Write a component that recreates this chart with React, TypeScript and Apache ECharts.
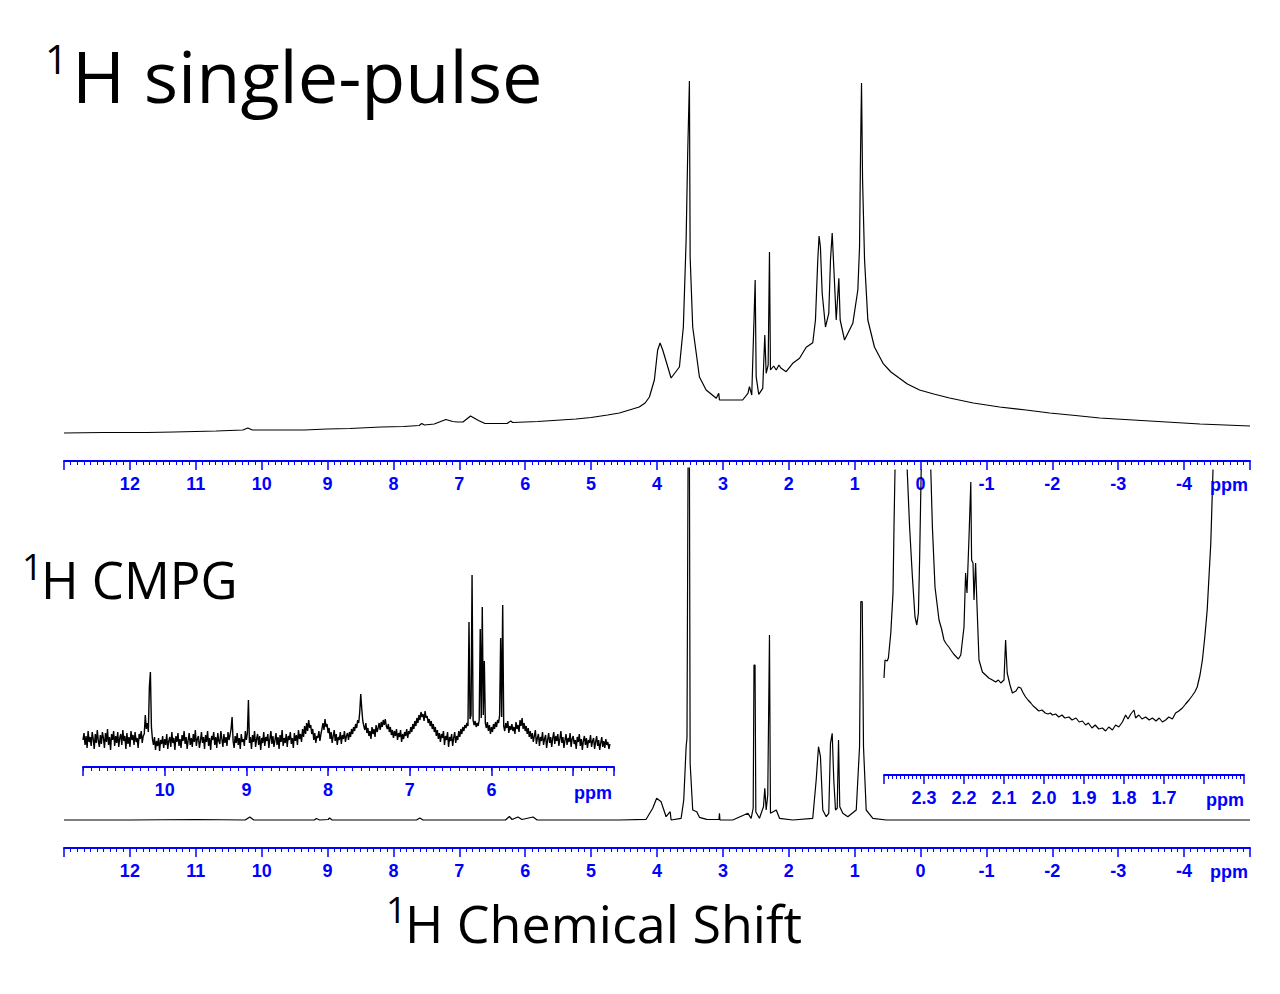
import React, { useEffect, useRef } from 'react';
import * as echarts from 'echarts';

// ---------- DATA (ppm, intensity) ----------
const singlePulse: [number, number][] = [
  [13.0, 28], [12.4, 28.5], [11.74, 28.5], [11.33, 29], [10.69, 30], [10.285, 31], [10.21, 33], [10.14, 31],
  [9.35, 31], [9.01, 32], [8.66, 32.5], [8.19, 34], [7.845, 34.5], [7.61, 35.5], [7.57, 37.5], [7.53, 36],
  [7.38, 37], [7.205, 41.5], [7.1, 39.5], [7.03, 39], [6.945, 39], [6.83, 45], [6.71, 40.5], [6.61, 37.5],
  [6.275, 37.5], [6.22, 40], [6.19, 38.5], [5.81, 39.5], [5.23, 42], [5.0, 43.5], [4.75, 46], [4.57, 48],
  [4.42, 51], [4.27, 54], [4.18, 58], [4.115, 64], [4.04, 81], [3.99, 111], [3.953, 118], [3.913, 111],
  [3.786, 83], [3.66, 94], [3.6, 134], [3.558, 221], [3.534, 308], [3.508, 380], [3.497, 204], [3.458, 134],
  [3.356, 84], [3.254, 71], [3.1, 62.7], [3.063, 67.7], [3.052, 61], [2.95, 61], [2.7, 61], [2.62, 67.7],
  [2.597, 74.3], [2.562, 66], [2.525, 147.7], [2.51, 181], [2.495, 84.3], [2.456, 66.7], [2.395, 72.7], [2.364, 126],
  [2.343, 87.7], [2.313, 96], [2.293, 209], [2.278, 91], [2.23, 95], [2.19, 91], [2.15, 96], [2.115, 92.7],
  [2.04, 89.3], [1.94, 97.7], [1.837, 102.7], [1.736, 113.7], [1.636, 118.3], [1.595, 141], [1.56, 201], [1.54, 225],
  [1.52, 214], [1.493, 167.7], [1.443, 134], [1.393, 147.7], [1.367, 201], [1.341, 228], [1.317, 194], [1.28, 141],
  [1.24, 182.7], [1.22, 141], [1.154, 121], [1.028, 137.7], [0.952, 171], [0.926, 214], [0.911, 307.7], [0.896, 378],
  [0.88, 281], [0.85, 201], [0.8, 141], [0.7, 114], [0.57, 97.7], [0.45, 89], [0.32, 82.7], [0.2, 77],
  [0.015, 71], [-0.2, 67], [-0.44, 63], [-0.8, 58], [-1.2, 54], [-1.6, 51], [-1.96, 48], [-2.35, 45.5],
  [-2.72, 43], [-3.1, 41.5], [-3.48, 40], [-3.86, 38.5], [-4.24, 37], [-4.62, 36], [-5.0, 35],
];

const cmpgMain: [number, number][] = [
  [13.0, 28], [12.0, 28], [11.0, 28.5], [10.25, 28], [10.18, 31], [10.12, 28], [9.2, 28], [9.17, 29.5],
  [9.12, 28], [8.99, 28.5], [8.97, 30], [8.93, 28], [7.65, 28], [7.6, 30], [7.55, 28], [6.3, 28],
  [6.24, 31.5], [6.2, 28.5], [6.11, 31], [6.05, 28.5], [5.88, 31], [5.82, 28], [4.57, 28], [4.165, 28.7],
  [4.065, 39.7], [4.005, 49.7], [3.938, 46.3], [3.862, 31.3], [3.8, 36.3], [3.786, 28], [3.634, 29.7], [3.594, 48],
  [3.558, 101.3], [3.545, 110], [3.525, 450], [3.51, 450], [3.497, 84.7], [3.458, 38], [3.397, 36.3], [3.356, 30.7],
  [3.245, 28.7], [3.06, 28.5], [3.052, 34.7], [3.045, 28], [2.85, 28], [2.62, 34.7], [2.571, 29.7], [2.54, 40],
  [2.528, 183], [2.512, 183], [2.5, 36], [2.445, 29.7], [2.384, 41.3], [2.364, 59.7], [2.343, 38], [2.319, 53],
  [2.293, 213], [2.278, 34.7], [2.19, 38], [2.141, 29.7], [1.94, 28], [1.636, 29.7], [1.584, 68], [1.549, 101.3],
  [1.519, 91.3], [1.484, 38], [1.432, 31.3], [1.393, 34.7], [1.367, 104.7], [1.341, 114.7], [1.317, 68], [1.291, 38],
  [1.265, 39.7], [1.245, 108], [1.226, 41.3], [1.18, 34.7], [1.104, 31.3], [0.976, 38], [0.926, 101.3], [0.907, 246.3],
  [0.885, 246.3], [0.866, 101.3], [0.825, 38], [0.724, 29.7], [0.52, 28], [0.3, 28], [0.0, 28], [-5.0, 28],
];

// aromatic expansion of the CMPG spectrum, sampled from 11.0 ppm downward every 0.0125 ppm
const cmpgAromaticStart = 11.0;
const cmpgAromaticStep = 0.0125;
const cmpgAromaticValues = [
  27, 34, 22, 31, 19, 36, 25, 30, 21, 35, 28, 18, 33, 24, 37, 26, 20, 32, 23, 35,
  29, 19, 34, 25, 38, 22, 30, 17, 33, 27, 36, 21, 31, 24, 35, 20, 29, 33, 22, 37,
  26, 31, 18, 34, 23, 30, 20, 36, 27, 32, 22, 35, 25, 29, 19, 33, 28, 36, 24, 31,
  33, 52, 38, 44, 35, 80, 95, 40, 28, 22, 30, 17, 26, 21, 29, 16, 27, 23, 31, 19,
  28, 22, 33, 18, 26, 30, 20, 35, 24, 29, 17, 31, 25, 34, 21, 28, 19, 32, 26, 36,
  23, 30, 18, 27, 34, 22, 29, 20, 33, 25, 37, 21, 28, 31, 19, 26, 35, 24, 30, 18,
  32, 25, 36, 21, 29, 17, 31, 27, 35, 22, 30, 19, 34, 26, 23, 36, 28, 20, 33, 24,
  30, 21, 35, 27, 32, 38, 50, 26, 19, 31, 24, 34, 22, 29, 18, 33, 25, 28, 21, 36,
  27, 34, 67, 24, 30, 18, 32, 25, 36, 20, 28, 33, 22, 31, 17, 29, 24, 35, 21, 30,
  26, 33, 19, 28, 36, 23, 31, 20, 27, 34, 22, 30, 18, 32, 25, 37, 21, 29, 24, 33,
  20, 31, 27, 35, 23, 29, 19, 34, 26, 32, 22, 37, 28, 33, 25, 38, 30, 41, 33, 44,
  36, 47, 39, 42, 33, 38, 27, 34, 24, 31, 29, 36, 26, 33, 38, 44, 37, 48, 40, 43,
  34, 39, 28, 35, 24, 31, 37, 26, 33, 22, 30, 27, 35, 23, 32, 28, 36, 25, 31, 34,
  27, 35, 30, 38, 33, 40, 36, 43, 39, 47, 44, 55, 73, 58, 46, 41, 37, 44, 34, 39,
  31, 36, 28, 40, 33, 38, 30, 42, 35, 39, 44, 37, 45, 40, 47, 42, 48, 41, 38, 43,
  35, 40, 32, 37, 29, 36, 31, 38, 27, 34, 30, 37, 25, 33, 28, 35, 31, 38, 29, 36,
  33, 40, 35, 43, 38, 46, 41, 49, 44, 52, 47, 55, 50, 53, 46, 56, 49, 51, 44, 48,
  41, 46, 38, 43, 35, 40, 31, 37, 28, 34, 25, 33, 29, 36, 22, 31, 27, 35, 20, 30,
  26, 33, 21, 29, 35, 24, 31, 27, 36, 30, 38, 33, 40, 36, 42, 39, 44, 41, 145, 48,
  52, 192, 47, 42, 46, 40, 44, 41, 47, 138, 49, 160, 52, 106, 44, 39, 45, 36, 42, 33,
  40, 35, 43, 38, 45, 40, 47, 44, 52, 129, 50, 162, 41, 36, 44, 39, 46, 34, 41, 37,
  43, 36, 40, 33, 45, 38, 42, 35, 47, 41, 49, 38, 44, 36, 41, 33, 39, 30, 36, 28,
  34, 25, 31, 37, 23, 29, 33, 21, 30, 26, 35, 22, 28, 32, 19, 27, 34, 24, 30, 20,
  29, 35, 23, 31, 26, 33, 21, 28, 36, 24, 30, 19, 27, 33, 22, 29, 25, 34, 20, 28,
  31, 23, 27, 18, 30, 25, 33, 21, 28, 17, 26, 31, 22, 29, 19, 27, 24, 32, 20, 26,
  29, 18, 25, 31, 21, 27, 17, 24, 30, 20, 26, 19, 28, 22, 25, 18, 23,
];

// high-field expansion (inset axis 2.4 – 1.5)
const cmpgUpfield: [number, number][] = [
  [2.4, 97], [2.3975, 115], [2.392, 114], [2.389, 117], [2.383, 142], [2.3775, 182], [2.375, 248], [2.3725, 305],
  [2.364, 420], [2.342, 305], [2.336, 248], [2.329, 198], [2.3225, 158], [2.318, 150], [2.314, 162], [2.311, 215],
  [2.307, 305], [2.296, 420], [2.283, 305], [2.279, 248], [2.2725, 188], [2.2625, 155], [2.256, 146], [2.25, 135],
  [2.244, 131], [2.238, 128], [2.233, 125], [2.226, 121], [2.219, 118], [2.214, 116], [2.208, 120], [2.2, 148],
  [2.196, 202], [2.1925, 182], [2.1875, 238], [2.183, 293], [2.181, 215], [2.1775, 212], [2.175, 175], [2.171, 212],
  [2.168, 175], [2.1625, 115], [2.154, 103], [2.146, 100], [2.138, 97], [2.129, 95], [2.121, 93], [2.114, 95],
  [2.108, 92], [2.1, 95], [2.096, 135], [2.092, 102], [2.085, 90], [2.079, 82], [2.07, 84], [2.064, 88],
  [2.058, 87], [2.052, 82], [2.046, 78], [2.04, 75], [2.033, 72], [2.027, 69], [2.021, 67], [2.013, 64],
  [2.005, 65], [1.997, 62], [1.99, 61], [1.984, 62], [1.979, 60], [1.971, 61], [1.963, 58], [1.955, 60],
  [1.948, 57], [1.9375, 58], [1.93, 55], [1.92, 57], [1.912, 53], [1.904, 54], [1.896, 50], [1.889, 52],
  [1.88, 47], [1.872, 50], [1.863, 46], [1.854, 47], [1.846, 44], [1.838, 48], [1.829, 45], [1.821, 50],
  [1.813, 48], [1.804, 53], [1.796, 60], [1.79, 56], [1.783, 61], [1.775, 65], [1.771, 57], [1.763, 60],
  [1.755, 56], [1.746, 58], [1.737, 55], [1.729, 57], [1.72, 54], [1.712, 57], [1.704, 53], [1.696, 55],
  [1.688, 58], [1.679, 56], [1.671, 62], [1.663, 64], [1.654, 67], [1.646, 71], [1.6375, 75], [1.63, 79],
  [1.623, 83], [1.617, 88], [1.61, 100], [1.604, 115], [1.598, 138], [1.592, 165], [1.583, 232], [1.5775, 305],
  [1.572, 380],
];

// tick labels
const mainAxisLabels = [12, 11, 10, 9, 8, 7, 6, 5, 4, 3, 2, 1, 0, -1, -2, -3, -4];
const aromaticAxisLabels = [10, 9, 8, 7, 6];
const upfieldAxisLabels = ['2.3', '2.2', '2.1', '2.0', '1.9', '1.8', '1.7'];

const BLUE = '#0000ff';
const AXIS_FONT = '"Liberation Sans", Arial, sans-serif';
const TITLE_FONT = '"Open Sans", "Noto Sans", sans-serif';

const intLabel = (allowed: number[]) => (v: number) => {
  const r = Math.round(v);
  return Math.abs(v - r) < 1e-6 && allowed.includes(r) ? String(r) : '';
};

const axisLabelStyle = {
  color: BLUE,
  fontWeight: 'bold' as const,
  fontSize: 18,
  fontFamily: AXIS_FONT,
  margin: 14,
};

function majorAxis(gridIndex: number, min: number, max: number, extra: any) {
  return {
    type: 'value',
    gridIndex,
    position: 'bottom',
    inverse: true,
    min,
    max,
    axisLine: { show: true, onZero: false, lineStyle: { color: BLUE, width: 2 } },
    axisTick: { show: true, length: 9, lineStyle: { color: BLUE, width: 1.5 } },
    splitLine: { show: false },
    ...extra,
  };
}

function ppmText(x: number, y: number) {
  return {
    type: 'text',
    x,
    y,
    z: 10,
    style: {
      text: 'ppm',
      fill: BLUE,
      fontSize: 18,
      fontWeight: 'bold',
      fontFamily: AXIS_FONT,
      align: 'center',
      verticalAlign: 'middle',
      textAlign: 'center',
      textVerticalAlign: 'middle',
    },
  };
}

function titleText(text: string, x: number, y: number, size: number) {
  return {
    type: 'text',
    x,
    y,
    z: 10,
    style: {
      text,
      fill: '#000',
      fontSize: size,
      fontFamily: TITLE_FONT,
      align: 'left',
      verticalAlign: 'middle',
      textAlign: 'left',
      textVerticalAlign: 'middle',
    },
  };
}

export default function App() {
  const ref = useRef<HTMLDivElement>(null);

  useEffect(() => {
    if (!ref.current) return;
    const chart = echarts.init(ref.current, undefined, { renderer: 'svg' });

    const aromaticData = cmpgAromaticValues.map((v, i) => [
      +(cmpgAromaticStart - i * cmpgAromaticStep).toFixed(4),
      v,
    ]);

    const lineSeries = (xAxisIndex: number, yAxisIndex: number, data: any, width = 1.2) => ({
      type: 'line',
      xAxisIndex,
      yAxisIndex,
      data,
      showSymbol: false,
      symbol: 'none',
      clip: true,
      silent: true,
      lineStyle: { color: '#000', width },
    });

    chart.setOption({
      animation: false,
      backgroundColor: '#fff',
      grid: [
        { left: 64, width: 1186, top: 61, height: 400 },
        { left: 64, width: 1186, top: 468, height: 380 },
        { left: 83, width: 531, top: 560, height: 207 },
        { left: 884, width: 360, top: 470, height: 305 },
      ],
      xAxis: [
        majorAxis(0, -5, 13, {
          interval: 1,
          minorTick: { show: true, splitNumber: 10, length: 4, lineStyle: { color: BLUE, width: 1 } },
          axisLabel: { ...axisLabelStyle, formatter: intLabel(mainAxisLabels) },
        }),
        majorAxis(1, -5, 13, {
          interval: 1,
          minorTick: { show: true, splitNumber: 10, length: 4, lineStyle: { color: BLUE, width: 1 } },
          axisLabel: { ...axisLabelStyle, formatter: intLabel(mainAxisLabels) },
        }),
        majorAxis(2, 4.5, 11, {
          splitNumber: 6,
          axisLabel: { ...axisLabelStyle, formatter: intLabel(aromaticAxisLabels) },
        }),
        {
          type: 'value',
          gridIndex: 2,
          position: 'bottom',
          inverse: true,
          min: 4.5,
          max: 11,
          interval: 0.1,
          axisLine: { show: false, onZero: false },
          axisTick: { show: true, length: 4, lineStyle: { color: BLUE, width: 1 } },
          axisLabel: { show: false },
          splitLine: { show: false },
        },
        majorAxis(3, 1.5, 2.4, {
          interval: 0.1,
          minorTick: { show: true, splitNumber: 10, length: 4, lineStyle: { color: BLUE, width: 1 } },
          axisLabel: {
            ...axisLabelStyle,
            formatter: (v: number) => {
              const s = v.toFixed(1);
              return upfieldAxisLabels.includes(s) ? s : '';
            },
          },
        }),
      ],
      yAxis: [
        { type: 'value', gridIndex: 0, min: 0, max: 400, show: false },
        { type: 'value', gridIndex: 1, min: 0, max: 380, show: false },
        { type: 'value', gridIndex: 2, min: 0, max: 207, show: false },
        { type: 'value', gridIndex: 3, min: 0, max: 305, show: false },
      ],
      series: [
        lineSeries(0, 0, singlePulse),
        lineSeries(1, 1, cmpgMain),
        lineSeries(2, 2, aromaticData, 1.4),
        lineSeries(4, 3, cmpgUpfield),
      ],
      graphic: {
        elements: [
          titleText('1', 45, 58, 40),
          titleText('H single-pulse', 72, 75, 72),
          titleText('1', 22, 566, 36),
          titleText('H CMPG', 41, 579, 51),
          titleText('1', 386, 909, 36),
          titleText('H Chemical Shift', 405, 922, 52),
          ppmText(1229, 485),
          ppmText(1229, 872),
          ppmText(593, 793),
          ppmText(1225, 800),
        ],
      },
    });

    return () => chart.dispose();
  }, []);

  return (
    <div
      ref={ref}
      style={{ position: 'absolute', left: 0, top: 0, width: 1280, height: 994 }}
    />
  );
}
